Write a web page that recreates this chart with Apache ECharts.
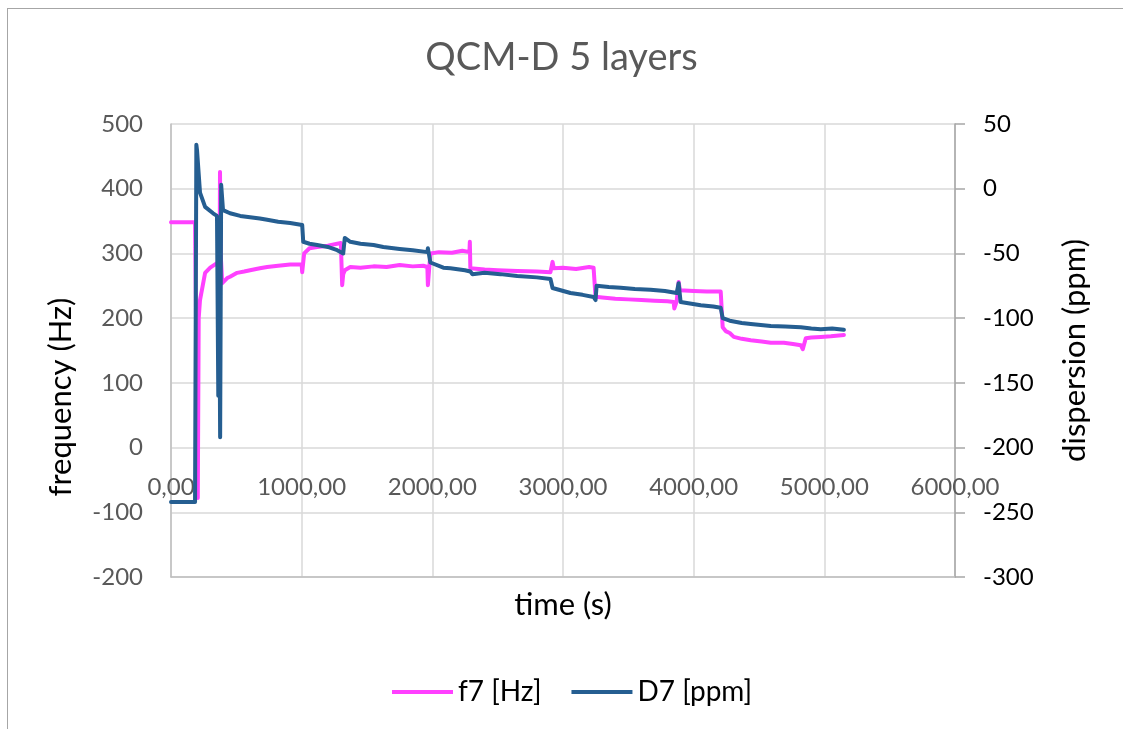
<!DOCTYPE html>
<html>
<head>
<meta charset="utf-8">
<script src="https://cdn.jsdelivr.net/npm/echarts@6/dist/echarts.min.js"></script>
<style>
  html, body { margin: 0; padding: 0; background: #fff; }
  #frame { position: absolute; left: 7px; top: 8px; width: 1140px; height: 760px; border: 1.5px solid #a6a6a6; box-sizing: border-box; }
  #chart { position: absolute; left: 0; top: 0; width: 1123px; height: 729px; }
</style>
</head>
<body>
<div id="frame"></div>
<div id="chart"></div>
<script>
// time (s), f7 (Hz)
const f7Time = [0, 184, 196, 205, 212, 222, 261, 300, 352, 372, 375, 380, 392, 430, 452, 506, 560, 605, 680, 736, 820, 912, 1000, 1004, 1019, 1060, 1119, 1200, 1300, 1310, 1318, 1330, 1372, 1450, 1550, 1650, 1750, 1850, 1930, 1962, 1966, 1985, 2050, 2150, 2230, 2284, 2287, 2291, 2400, 2500, 2650, 2800, 2904, 2920, 2930, 3000, 3100, 3200, 3234, 3249, 3300, 3400, 3500, 3600, 3700, 3800, 3847, 3852, 3870, 3885, 3895, 4000, 4100, 4207, 4222, 4245, 4276, 4307, 4368, 4437, 4520, 4590, 4690, 4760, 4820, 4835, 4858, 4900, 4973, 5050, 5150];
const f7Values = [348, 348, 345, -78, 200, 228, 270, 278, 285, 280, 426, 300, 254, 262, 264, 270, 272, 274, 277, 279, 281, 283, 283, 271, 300, 308, 310, 312, 316, 251, 268, 274, 279, 278, 280, 279, 282, 280, 281, 279, 251, 300, 302, 301, 304, 302, 318, 277, 275, 274, 273, 272, 271, 287, 277, 278, 276, 279, 278, 233, 232, 230, 229, 228, 227, 226, 225, 215, 226, 256, 243, 242, 241, 241, 186, 180, 177, 171, 168, 166, 164, 162, 162, 160, 158, 152, 169, 170, 171, 172, 174];

// time (s), D7 (ppm)
const d7Time = [0, 184, 192, 194, 199, 222, 261, 322, 352, 360, 362, 368, 376, 384, 398, 452, 530, 605, 680, 736, 820, 912, 1004, 1012, 1060, 1119, 1200, 1272, 1318, 1330, 1372, 1450, 1550, 1625, 1750, 1850, 1962, 1966, 1985, 2084, 2138, 2250, 2291, 2307, 2400, 2521, 2650, 2800, 2904, 2920, 3057, 3150, 3234, 3249, 3257, 3350, 3441, 3550, 3670, 3780, 3870, 3885, 3900, 4054, 4150, 4207, 4222, 4276, 4368, 4437, 4590, 4700, 4820, 4900, 4973, 5060, 5150];
const d7Values = [-242, -242, -242, 34, 30, -3, -14, -19, -21, -22, -160, -40, -192, 3, -16.5, -19, -21, -22, -23, -24, -25.5, -26.5, -28, -41, -42.5, -43.5, -45, -47.5, -50, -38, -41, -42.5, -43.5, -45, -46.5, -47.5, -49, -46, -57, -61, -61.5, -63, -64, -66, -65, -66, -67.5, -68.5, -69.7, -76.7, -80.6, -82, -83.6, -86, -75, -76, -76.5, -77.5, -78, -79, -80.6, -73, -87.5, -90, -91, -92, -100, -102, -103.7, -104.5, -106, -106.5, -107, -108, -108.5, -108, -109];

// axis tick settings
const xTicks = { min: 0, max: 6000, interval: 1000 };
const yLeftTicks = { min: -200, max: 500, interval: 100 };
const yRightTicks = { min: -300, max: 50, interval: 50 };

const f7Data = f7Time.map((t, i) => [t, f7Values[i]]);
const d7Data = d7Time.map((t, i) => [t, d7Values[i]]);

const FONT = 'Lato, "Liberation Sans", sans-serif';
const chart = echarts.init(document.getElementById('chart'), null, { renderer: 'canvas' });
chart.setOption({
  backgroundColor: 'transparent',
  animation: false,
  title: {
    text: 'QCM-D 5 layers',
    left: 'center',
    top: 34,
    textStyle: { fontFamily: FONT, fontSize: 38, fontWeight: 'normal', color: '#595959' }
  },
  legend: {
    top: 673,
    left: 387,
    icon: 'rect',
    itemWidth: 61,
    itemHeight: 4,
    itemGap: 30,
    textStyle: { fontFamily: FONT, fontSize: 28, color: '#000' },
    data: ['f7 [Hz]', 'D7 [ppm]']
  },
  graphic: [
    {
      type: 'text',
      x: 61, y: 397,
      rotation: Math.PI / 2,
      style: {
        text: 'frequency (Hz)',
        fontFamily: FONT, fontSize: 31, fill: '#000',
        align: 'center', verticalAlign: 'middle'
      }
    }
  ],
  grid: { left: 171, right: 168, top: 124, bottom: 152, containLabel: false },
  xAxis: {
    type: 'value',
    min: xTicks.min, max: xTicks.max, interval: xTicks.interval,
    name: 'time (s)',
    nameLocation: 'middle',
    nameGap: 12,
    nameTextStyle: { fontFamily: FONT, fontSize: 31, color: '#000' },
    axisLine: { show: true, onZero: false, lineStyle: { color: '#bfbfbf', width: 1.5 } },
    axisTick: { show: false },
    axisLabel: {
      margin: -102,
      fontFamily: FONT, fontSize: 24, color: '#595959',
      formatter: v => v.toFixed(2).replace('.', ',')
    },
    splitLine: { show: true, lineStyle: { color: '#d9d9d9', width: 1.5 } }
  },
  yAxis: [
    {
      type: 'value',
      min: yLeftTicks.min, max: yLeftTicks.max, interval: yLeftTicks.interval,
      axisLine: { show: true, lineStyle: { color: '#bfbfbf', width: 1.5 } },
      axisTick: { show: false },
      axisLabel: { margin: 28, fontFamily: FONT, fontSize: 24, color: '#595959' },
      splitLine: { show: true, lineStyle: { color: '#d9d9d9', width: 1.5 } }
    },
    {
      type: 'value',
      position: 'right',
      min: yRightTicks.min, max: yRightTicks.max, interval: yRightTicks.interval,
      name: 'dispersion (ppm)',
      nameLocation: 'middle',
      nameGap: 104,
      nameRotate: 90,
      nameTextStyle: { fontFamily: FONT, fontSize: 31, color: '#000' },
      axisLine: { show: true, lineStyle: { color: '#a6a6a6', width: 1.5 } },
      axisTick: { show: true, length: 10, lineStyle: { color: '#a6a6a6', width: 1.5 } },
      axisLabel: { margin: 28, fontFamily: FONT, fontSize: 24, color: '#000' },
      splitLine: { show: false }
    }
  ],
  series: [
    {
      name: 'f7 [Hz]',
      type: 'line',
      yAxisIndex: 0,
      data: f7Data,
      showSymbol: false,
      symbol: 'none',
      color: '#ff40ff',
      lineStyle: { color: '#ff40ff', width: 4, cap: 'round', join: 'round' }
    },
    {
      name: 'D7 [ppm]',
      type: 'line',
      yAxisIndex: 1,
      data: d7Data,
      showSymbol: false,
      symbol: 'none',
      color: '#255e91',
      lineStyle: { color: '#255e91', width: 4, cap: 'round', join: 'round' }
    }
  ]
});
</script>
</body>
</html>
